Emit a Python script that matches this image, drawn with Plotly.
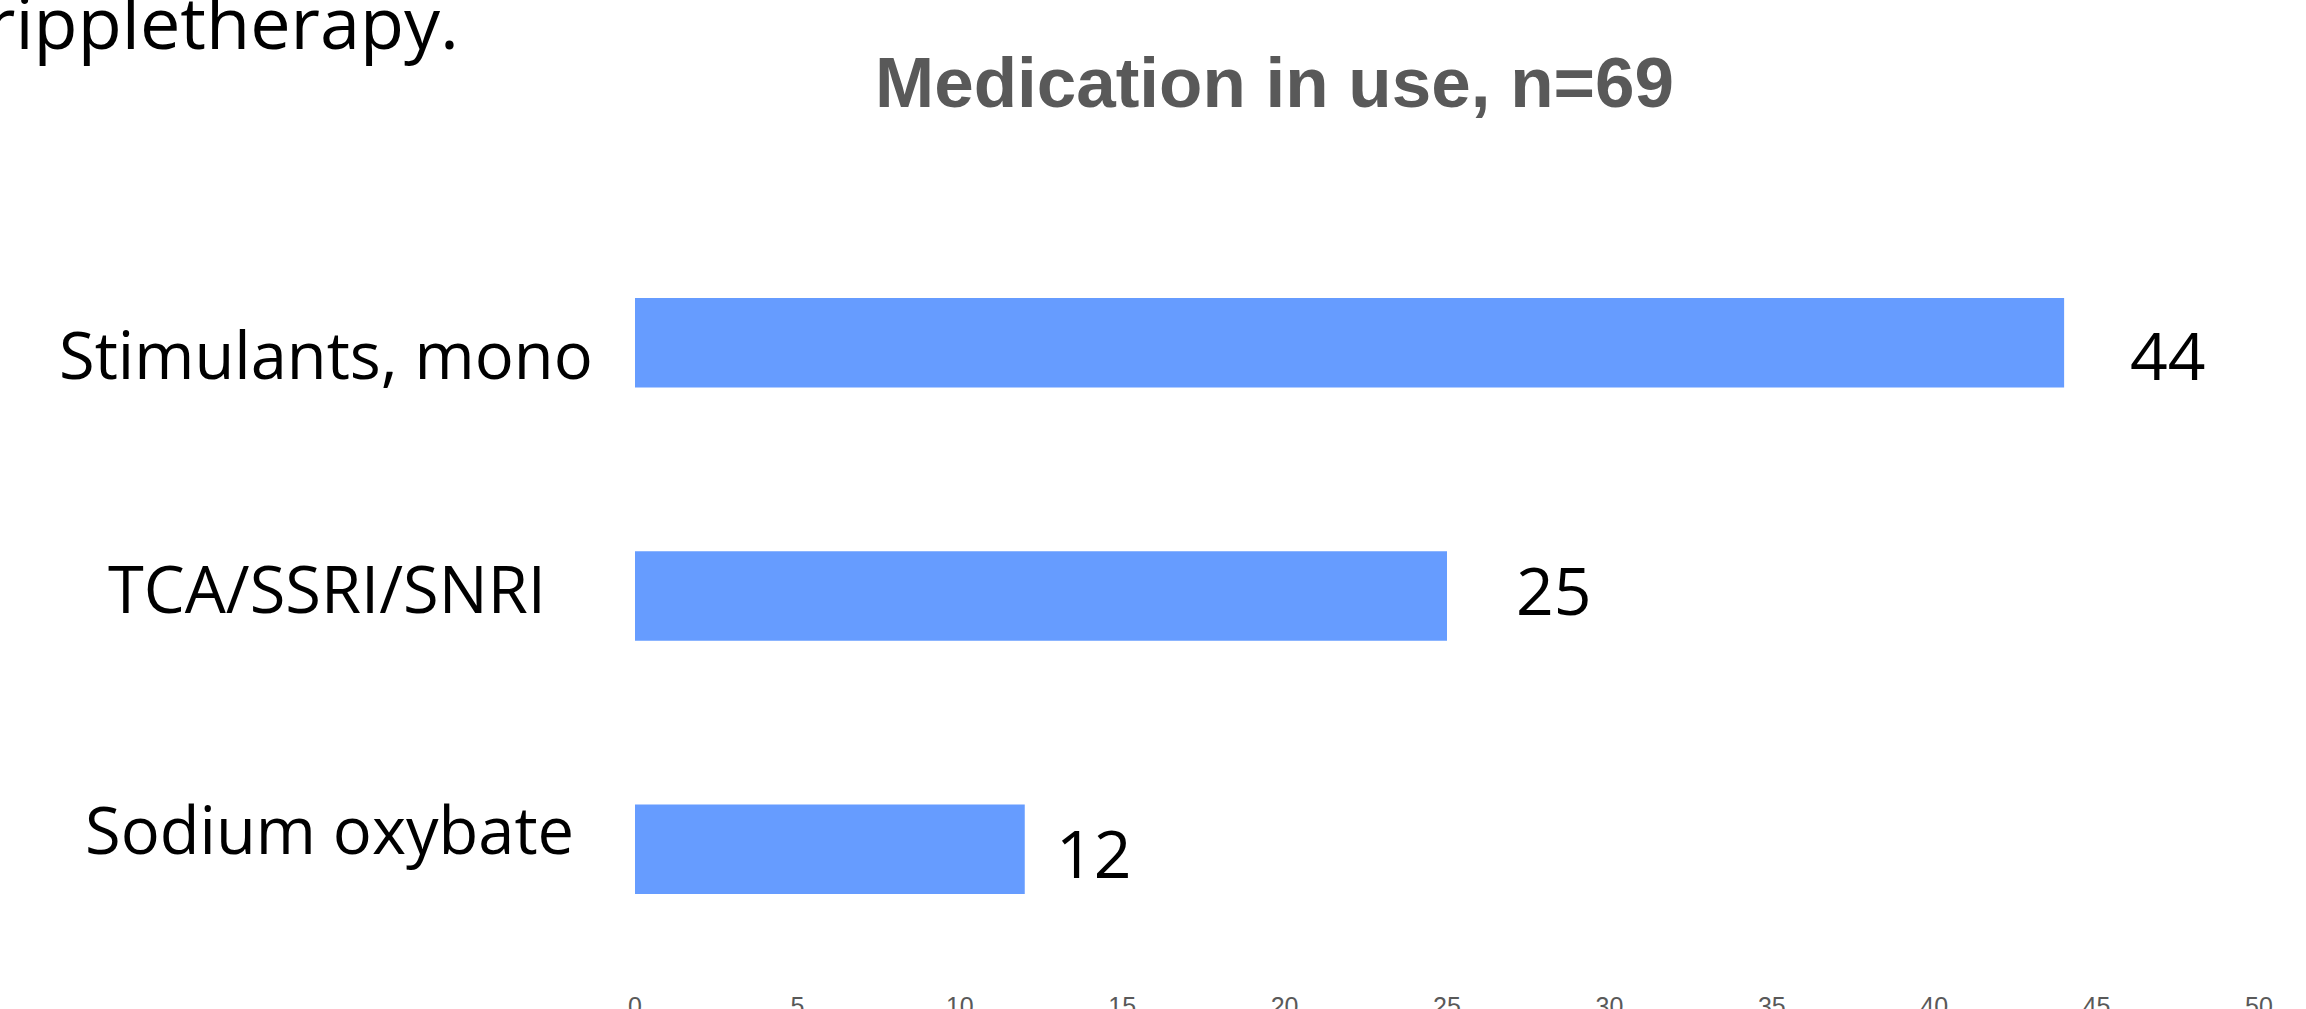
import plotly.graph_objects as go

# ---- data ----
categories = ["Stimulants, mono", "TCA/SSRI/SNRI", "Sodium oxybate"]
values = [44, 25, 12]
x_ticks = [0, 5, 10, 15, 20, 25, 30, 35, 40, 45, 50]
title_text = "Medication in use, n=69"
corner_text = "rippletherapy."

# ---- layout constants (pixels) ----
W, H = 2306, 1009
PL, PR, PT, PB = 635, 2259, 216, 976
PW, PH = PR - PL, PB - PT

def px_x(p):
    return (p - PL) / PW

def px_y(p):
    return (PB - p) / PH

LABEL_FONT = "Open Sans, Noto Sans, sans-serif"

fig = go.Figure()
fig.add_trace(go.Bar(
    x=values, y=categories, orientation="h",
    marker=dict(color="#669CFF", line=dict(width=0)),
    hoverinfo="skip",
))

annotations = []
# category labels (centered text boxes left of the bars)
cat_centers_x = [326, 326.5, 329]
cat_yshift = [-11, 8.5, 20.5]
for c, cx, ys in zip(categories, cat_centers_x, cat_yshift):
    annotations.append(dict(
        x=px_x(cx), xref="paper", y=c, yref="y", text=c, showarrow=False,
        xanchor="center", yanchor="middle", yshift=ys,
        font=dict(family=LABEL_FONT, size=65, color="#000000"),
    ))
# value labels
val_xshift = [64, 67, 29]
val_yshift = [-11, 7.5, -2.5]
for c, v, xs, ys in zip(categories, values, val_xshift, val_yshift):
    annotations.append(dict(
        x=v, xref="x", y=c, yref="y", text=str(v), showarrow=False,
        xanchor="left", yanchor="middle", xshift=xs, yshift=ys,
        font=dict(family=LABEL_FONT, size=66, color="#000000"),
    ))
# title
annotations.append(dict(
    x=px_x(1274), xref="paper", y=px_y(83), yref="paper", text="<b>" + title_text + "</b>",
    showarrow=False, xanchor="center", yanchor="middle",
    font=dict(family="Liberation Sans, Arial, sans-serif", size=71, color="#595959"),
))
# cut-off slide text in the top-left corner
annotations.append(dict(
    x=px_x(461), xref="paper", y=px_y(21), yref="paper", text=corner_text,
    showarrow=False, xanchor="right", yanchor="middle",
    font=dict(family=LABEL_FONT, size=72, color="#000000"),
))

fig.update_layout(
    template="none",
    width=W, height=H, autosize=False,
    margin=dict(l=PL, r=W - PR, t=PT, b=H - PB, pad=0),
    paper_bgcolor="#FFFFFF", plot_bgcolor="#FFFFFF",
    showlegend=False, bargap=0.647,
    xaxis=dict(range=[0, 50], tickmode="array", tickvals=x_ticks,
               ticktext=[str(t) for t in x_ticks], automargin=False,
               showgrid=False, zeroline=False, showline=False, ticks="",
               ticklabelstandoff=13,
               tickfont=dict(family="Liberation Sans Narrow, Liberation Sans, Arial", size=25, color="#595959")),
    yaxis=dict(type="category", categoryarray=categories, range=[2.5, -0.5], automargin=False,
               showgrid=False, zeroline=False, showline=False, showticklabels=False, ticks=""),
    annotations=annotations,
)

fig.write_html("out.html", config={"displayModeBar": False},
               post_script="document.body.style.margin='0';document.body.style.overflow='hidden';")
